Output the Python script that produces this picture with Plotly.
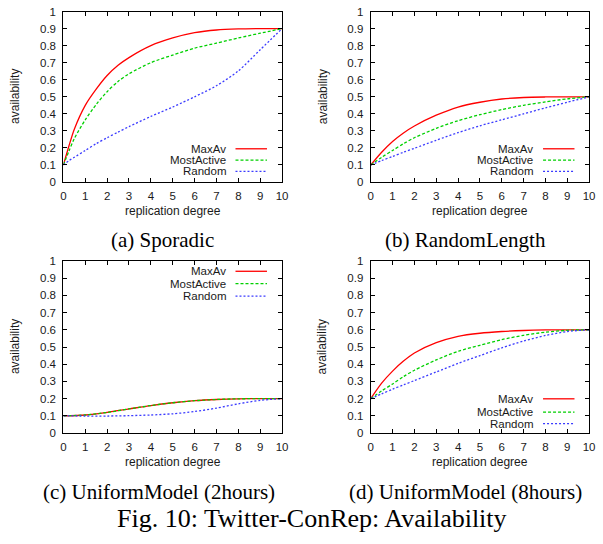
import plotly.graph_objects as go

W, H = 603, 544

# ---------------- data ----------------
SERIES = ["MaxAv", "MostActive", "Random"]
CAPTIONS = ["(a) Sporadic", "(b) RandomLength", "(c) UniformModel (2hours)", "(d) UniformModel (8hours)"]
FIG_CAPTION = "Fig. 10: Twitter-ConRep: Availability"
X_TICKS = list(range(0, 11))
Y_TICKS = [0, 0.1, 0.2, 0.3, 0.4, 0.5, 0.6, 0.7, 0.8, 0.9, 1]

# (a) Sporadic
x_a = [0, 0.25, 0.5, 1, 1.5, 2, 2.5, 3, 4, 5, 6, 7, 8, 9, 10]
maxav_a = [0.10, 0.21, 0.31, 0.45, 0.545, 0.625, 0.685, 0.73, 0.80, 0.845, 0.876, 0.892, 0.898, 0.90, 0.90]
mostactive_a = [0.10, 0.18, 0.255, 0.365, 0.455, 0.53, 0.59, 0.635, 0.70, 0.745, 0.785, 0.815, 0.845, 0.873, 0.90]
random_a = [0.10, 0.125, 0.145, 0.185, 0.225, 0.26, 0.293, 0.325, 0.385, 0.44, 0.50, 0.565, 0.652, 0.776, 0.90]

# (b) RandomLength
x_b = [0, 0.5, 1, 1.5, 2, 3, 4, 5, 6, 7, 8, 9, 10]
maxav_b = [0.10, 0.175, 0.238, 0.288, 0.329, 0.392, 0.44, 0.468, 0.487, 0.496, 0.499, 0.50, 0.50]
mostactive_b = [0.10, 0.145, 0.185, 0.225, 0.26, 0.315, 0.36, 0.395, 0.425, 0.45, 0.47, 0.488, 0.50]
random_b = [0.10, 0.126, 0.15, 0.175, 0.198, 0.245, 0.29, 0.33, 0.365, 0.40, 0.435, 0.468, 0.50]

# (c) UniformModel (2hours)
x_c = [0, 1, 2, 3, 4, 5, 6, 7, 8, 9, 10]
maxav_c = [0.10, 0.105, 0.12, 0.14, 0.16, 0.176, 0.188, 0.195, 0.199, 0.20, 0.20]
mostactive_c = [0.10, 0.105, 0.12, 0.14, 0.16, 0.176, 0.188, 0.195, 0.199, 0.20, 0.20]
random_c = [0.10, 0.099, 0.099, 0.101, 0.105, 0.112, 0.125, 0.145, 0.17, 0.19, 0.20]

# (d) UniformModel (8hours)
x_d = [0, 0.5, 1, 1.5, 2, 3, 4, 5, 6, 7, 8, 9, 10]
maxav_d = [0.20, 0.29, 0.36, 0.418, 0.465, 0.525, 0.562, 0.58, 0.59, 0.596, 0.599, 0.60, 0.60]
mostactive_d = [0.20, 0.245, 0.285, 0.328, 0.365, 0.425, 0.475, 0.51, 0.543, 0.568, 0.586, 0.597, 0.60]
random_d = [0.20, 0.228, 0.255, 0.28, 0.305, 0.355, 0.405, 0.45, 0.495, 0.535, 0.567, 0.59, 0.60]

PANELS = [
    (x_a, [maxav_a, mostactive_a, random_a]),
    (x_b, [maxav_b, mostactive_b, random_b]),
    (x_c, [maxav_c, mostactive_c, random_c]),
    (x_d, [maxav_d, mostactive_d, random_d]),
]

# ---------------- styles ----------------
COLORS = ["#ff0000", "#00d000", "#3b3bff"]
DASHES = ["solid", "3px,2px", "2px,2px"]
SANS = "Liberation Sans, Arial, sans-serif"
SERIF = "Liberation Serif, Times New Roman, serif"
TXT = "#1a1a1a"

# plot-area boxes in pixels: (left, right, top, bottom)
BOXES = [
    (61.3, 283.3, 5.7, 180.0),
    (373.3, 595.0, 5.7, 180.0),
    (61.3, 283.3, 260.7, 436.7),
    (373.3, 595.0, 260.7, 436.7),
]
# legend placement (domain fractions): text right x, line x0, x1, row y's
LEGENDS = [
    (0.755, 0.787, 0.931, [0.195, 0.129, 0.063]),
    (0.753, 0.789, 0.933, [0.195, 0.129, 0.063]),
    (0.755, 0.787, 0.931, [0.94, 0.868, 0.796]),
    (0.753, 0.789, 0.933, [0.199, 0.122, 0.055]),
]
CAPTION_POS = [(161.5, 239), (469, 239), (158, 497), (469, 497)]


def px(x):
    return x / W


def py(y):
    return 1 - y / H


fig = go.Figure()
annotations = []
shapes = []
layout = {}

for i, ((xs, ys_list), box) in enumerate(zip(PANELS, BOXES)):
    n = "" if i == 0 else str(i + 1)
    xa, ya = "x" + n, "y" + n
    for s, ys in enumerate(ys_list):
        fig.add_trace(go.Scatter(
            x=xs, y=ys, mode="lines", name=SERIES[s], showlegend=False,
            xaxis=xa, yaxis=ya,
            line=dict(color=COLORS[s], width=1.3, dash=DASHES[s], shape="spline", smoothing=0.8),
        ))
    l, r, t, b = box
    common = dict(
        showline=True, linecolor="black", linewidth=1.2, mirror="ticks",
        ticks="inside", ticklen=4, tickcolor="black", tickwidth=1,
        showgrid=False, zeroline=False, fixedrange=True,
        tickfont=dict(family=SANS, size=11.5, color=TXT),
    )
    layout["xaxis" + n] = dict(common, domain=[px(l), px(r)], range=[0, 10],
                               tickvals=X_TICKS, anchor=ya, ticklabelstandoff=3)
    layout["yaxis" + n] = dict(common, domain=[py(b), py(t)], range=[0, 1],
                               tickvals=Y_TICKS, anchor=xa, ticklabelstandoff=4)
    # axis titles
    annotations.append(dict(text="availability", xref="paper", yref="paper",
                            x=px(l - 49), y=py((t + b) / 2), textangle=-90,
                            xanchor="center", yanchor="middle", showarrow=False,
                            font=dict(family=SANS, size=12, color=TXT)))
    annotations.append(dict(text="replication degree", xref="paper", yref="paper",
                            x=px((l + r) / 2), y=py(b + 29.5),
                            xanchor="center", yanchor="middle", showarrow=False,
                            font=dict(family=SANS, size=12, color=TXT)))
    # legend
    tx, lx0, lx1, rows = LEGENDS[i]
    for s in range(3):
        annotations.append(dict(text=SERIES[s], xref=xa + " domain", yref=ya + " domain",
                                x=tx, y=rows[s], xanchor="right", yanchor="middle",
                                showarrow=False,
                                font=dict(family=SANS, size=11.5, color=TXT)))
        shapes.append(dict(type="line", xref=xa + " domain", yref=ya + " domain",
                           x0=lx0, x1=lx1, y0=rows[s], y1=rows[s],
                           line=dict(color=COLORS[s], width=1.3, dash=DASHES[s])))
    # caption
    cx, cy = CAPTION_POS[i]
    annotations.append(dict(text=CAPTIONS[i], xref="paper", yref="paper",
                            x=px(cx), y=py(cy), xanchor="center", yanchor="middle",
                            showarrow=False, font=dict(family=SERIF, size=21, color="black")))

annotations.append(dict(text=FIG_CAPTION, xref="paper", yref="paper",
                        x=px(313.5), y=py(524), xanchor="center", yanchor="middle",
                        showarrow=False, font=dict(family=SERIF, size=26, color="black")))

fig.update_layout(
    width=W, height=H, margin=dict(l=0, r=0, t=0, b=0),
    paper_bgcolor="white", plot_bgcolor="white",
    annotations=annotations, shapes=shapes, showlegend=False,
    **layout,
)

fig.write_html("out.html", config={"displayModeBar": False})
